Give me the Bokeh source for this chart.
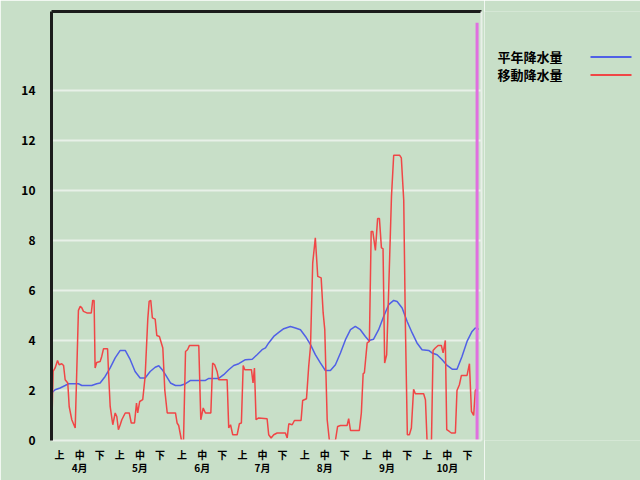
from bokeh.plotting import figure
from bokeh.models import Range1d, FixedTicker, LinearAxis
from bokeh.layouts import row
from bokeh.embed import file_html
from bokeh.resources import INLINE
from bokeh.core.properties import value

# ---------------- data ----------------
months = ["4月", "5月", "6月", "7月", "8月", "9月", "10月"]
month_days = [30, 31, 30, 31, 31, 30, 31]
dekads = ["上", "中", "下"]
y_ticks = [0, 2, 4, 6, 8, 10, 12, 14]

series_names = ["平年降水量", "移動降水量"]

# 平年降水量 (day index from 4/1, value mm)
normal_day = [0, 0.1, 1.8, 4.3, 6.8, 8.5, 13.4, 15.1, 20.0, 22.5, 24.2, 26.7, 29.2, 31.7,
              34.2, 36.7, 39.2, 41.6, 44.1, 46.6, 49.1, 51.6, 53.4, 55.1, 56.7, 59.2, 61.7,
              64.2, 66.7, 69.2, 76.6, 78.3, 83.2, 85.7, 88.2, 90.7, 93.2, 96.5, 99.9, 102.3,
              104.8, 106.5, 108.1, 110.6, 113.1, 115.6, 118.9, 121.4, 123.9, 126.4, 128.9,
              131.3, 133.8, 136.3, 138.8, 141.3, 143.8, 146.3, 148.8, 151.2, 153.7, 156.2,
              157.9, 160.3, 162.8, 165.3, 167.8, 170.3, 172.0, 174.5, 177.0, 179.5, 181.9,
              184.4, 187.7, 189.4, 191.9, 194.4, 196.9, 199.4, 201.8, 204.3, 206.8, 209.3,
              210.9, 212.6]
normal_val = [0, 1.9, 2.03, 2.1, 2.2, 2.27, 2.27, 2.2, 2.2, 2.27, 2.3, 2.56, 2.9, 3.3,
              3.6, 3.6, 3.23, 2.76, 2.5, 2.5, 2.76, 2.93, 2.99, 2.83, 2.63, 2.3, 2.2,
              2.2, 2.27, 2.4, 2.4, 2.48, 2.48, 2.63, 2.83, 3.0, 3.07, 3.23, 3.25, 3.43,
              3.63, 3.7, 3.9, 4.16, 4.32, 4.47, 4.56, 4.5, 4.43, 4.16, 3.83,
              3.43, 3.1, 2.8, 2.8, 3.03, 3.5, 4.03, 4.43, 4.56, 4.43, 4.16,
              4.0, 4.05, 4.43, 4.96, 5.43, 5.6, 5.56, 5.3, 4.76, 4.3, 3.9,
              3.63, 3.6, 3.5, 3.43, 3.23, 3.0, 2.85, 2.85, 3.36, 3.96, 4.36,
              4.5, 4.45]

# 移動降水量
moving_day = [0, 0.8, 1.8, 3.0, 3.8, 5.1, 6.0, 6.8, 8.1, 8.8, 10.1, 11.8, 13.4, 14.3, 15.1,
              15.9, 17.6, 19.8, 20.5, 21.2, 21.7, 22.5, 24.2, 25.0, 25.9, 27.9, 28.4, 29.2,
              30.5, 31.7, 32.5, 33.3, 34.2, 35.0, 36.7, 38.7, 39.7, 41.3, 42.3, 42.9, 43.9,
              45.4, 46.6, 47.9, 48.6, 49.4, 50.2, 51.6, 52.4, 53.7, 55.4, 56.4, 57.6, 61.7,
              62.5, 63.3, 64.7, 65.7, 66.7, 67.7, 68.7, 73.3, 74.3, 75.5, 76.6, 79.3, 80.2,
              81.2, 82.4, 83.2, 87.4, 88.2, 89.1, 90.2, 92.4, 93.5, 94.5, 95.4, 96.2, 99.5,
              100.3, 101.0, 101.8, 103.1, 107.3, 108.1, 109.3, 110.6, 112.3, 116.4, 117.3,
              118.1, 119.8, 120.9, 124.2, 125.0, 126.9, 128.0, 128.9, 130.0, 131.3, 132.5,
              134.2, 135.2, 136.0, 137.2, 138.3, 141.3, 142.4, 143.8, 147.1, 147.9, 148.8,
              153.2, 154.2, 155.1, 155.7, 157.1, 158.2, 159.1, 159.9, 161.2, 162.3, 163.2,
              164.2, 165.0, 165.8, 166.8, 167.8, 169.2, 170.3, 173.3, 174.1, 175.3, 176.1,
              177.1, 178.1, 179.1, 180.2, 181.1, 185.2, 186.1, 186.9, 189.1, 189.9, 191.0,
              192.4, 194.0, 194.9, 196.0, 196.7, 198.0, 199.0, 201.0, 201.8, 203.0, 204.0,
              206.8, 208.0, 209.0, 210.1, 210.9, 211.9]
moving_val = [0, 2.76, 2.9, 3.2, 3.03, 3.07, 3.0, 2.43, 2.3, 1.36, 0.83, 0.5, 5.2, 5.36, 5.3,
              5.16, 5.1, 5.1, 5.6, 5.6, 2.9, 3.12, 3.16, 3.36, 3.67, 3.67, 2.7, 1.36,
              0.63, 1.1, 0.96, 0.43, 0.63, 0.83, 1.1, 1.1, 0.7, 0.7, 1.5, 1.1, 1.56,
              1.63, 2.56, 4.83, 5.56, 5.6, 4.9, 4.85, 4.2, 4.16, 3.7, 2.0, 1.1, 1.1,
              0.7, 0.6, 0, 0, 3.56, 3.63, 3.8, 3.8, 0.83, 1.3, 1.1, 1.1, 3.1,
              3.03, 2.76, 2.43, 2.43, 0.5, 0.63, 0.23, 0.23, 0.67, 0.7, 3.0, 2.83, 2.83,
              2.3, 2.9, 0.83, 0.9, 0.87, 0.23, 0.1, 0.23, 0.3, 0.3, 0.1,
              0.67, 0.63, 0.8, 0.8, 1.6, 1.67, 2.96, 3.76, 7.1, 8.1, 6.56,
              6.5, 5.1, 4.43, 0.83, 0, 0, 0.56, 0.6, 0.6, 0.87, 0.4,
              0.4, 1.1, 2.67, 2.7, 3.9, 3.96, 8.36, 8.36, 7.6, 8.87, 8.87,
              7.7, 7.67, 3.1, 3.43, 6.0, 9.76, 11.4, 11.4, 11.3, 9.6, 4.7,
              0.23, 0.23, 0.5, 2.05, 1.87, 1.87, 1.63, 0, 0, 3.6, 3.7,
              3.8, 3.8, 3.5, 4.0, 0.43, 0.36, 0.3, 0.3, 2.0, 2.23, 2.6,
              2.6, 3.07, 1.16, 1.0, 2.0, 2.1]

today_day = 211.8
today_top = 16.7

# ---------------- styles ----------------
BG = "#C8DFC8"
BLUE = "#5060E6"
RED = "#F04646"
MAGENTA = "#E070E0"
DARK = "#1C1C1C"
LIGHT = "#E8F0E8"
FONT = "Noto Sans CJK JP"

total_days = sum(month_days)
starts = [sum(month_days[:i]) for i in range(len(month_days))]
x_ticks = []
dek_over = {}
mid_ticks = []
mon_over = {}
for s, m in zip(starts, months):
    for k, d in enumerate(dekads):
        t = s + 4 + 10 * k
        x_ticks.append(t)
        dek_over[t] = d
        if k == 1:
            mid_ticks.append(t)
            mon_over[t] = m

p = figure(width=484, height=480, x_range=Range1d(0, total_days), y_range=Range1d(0, 17.15),
           output_backend="svg", toolbar_location=None,
           min_border_left=51, min_border_top=11, min_border_right=3, min_border_bottom=40,
           background_fill_color=BG, border_fill_color=BG, outline_line_color=None)

# y axis
ya = p.yaxis[0]
ya.ticker = FixedTicker(ticks=y_ticks)
ya.axis_line_color = DARK
ya.axis_line_width = 3
ya.major_tick_line_color = None
ya.minor_tick_line_color = None
ya.major_label_standoff = 10
ya.major_label_text_font = FONT
ya.major_label_text_font_style = "bold"
ya.major_label_text_font_size = "12px"
ya.major_label_text_color = "black"

# x axis: dekads
xa = p.xaxis[0]
xa.ticker = FixedTicker(ticks=x_ticks)
xa.major_label_overrides = dek_over
xa.axis_line_color = LIGHT
xa.axis_line_width = 2
xa.major_tick_line_color = None
xa.minor_tick_line_color = None
xa.major_tick_out = 0
xa.major_label_standoff = 6
xa.major_label_text_font = FONT
xa.major_label_text_font_style = "bold"
xa.major_label_text_font_size = "10px"
xa.major_label_text_color = "black"

# x axis: months
ma = LinearAxis(ticker=FixedTicker(ticks=mid_ticks), major_label_overrides=mon_over,
                axis_line_color=None, major_tick_line_color=None, minor_tick_line_color=None,
                major_tick_out=0, minor_tick_out=0, major_label_standoff=-5,
                major_label_text_font=FONT, major_label_text_font_style="bold",
                major_label_text_font_size="10px", major_label_text_color="black")
p.add_layout(ma, "below")

# top and right frame lines
top = LinearAxis(ticker=FixedTicker(ticks=[]), axis_line_color=DARK, axis_line_width=3,
                 major_tick_line_color=None, minor_tick_line_color=None,
                 major_label_text_font_size="0px", major_tick_out=0, minor_tick_out=0,
                 major_label_standoff=0)
right = LinearAxis(ticker=FixedTicker(ticks=[]), axis_line_color=LIGHT, axis_line_width=2,
                   major_tick_line_color=None, minor_tick_line_color=None,
                   major_label_text_font_size="0px", major_tick_out=0, minor_tick_out=0,
                   major_label_standoff=0)
p.add_layout(top, "above")
p.add_layout(right, "right")

p.xgrid.visible = False
p.ygrid.ticker = FixedTicker(ticks=y_ticks)
p.ygrid.grid_line_color = LIGHT
p.ygrid.grid_line_width = 2

p.line(normal_day, normal_val, line_color=BLUE, line_width=1.5)
p.line(moving_day, moving_val, line_color=RED, line_width=1.5)
p.segment(x0=[today_day], y0=[0], x1=[today_day], y1=[today_top], line_color=MAGENTA, line_width=3)

# legend panel
lg = figure(width=156, height=480, x_range=Range1d(0, 156), y_range=Range1d(480, 0),
            output_backend="svg", toolbar_location=None,
            min_border=0, x_axis_location=None, y_axis_location=None,
            background_fill_color=BG, border_fill_color=BG, outline_line_color=None)
lg.title.visible = False
lg.grid.visible = False
lg.text(x=[13, 13], y=[50, 70], text=series_names, text_font=value(FONT),
        text_font_style="bold", text_font_size="13px", text_baseline="middle",
        text_align="left", text_color="black")
lg.segment(x0=[106, 106], y0=[51, 71], x1=[147, 147], y1=[51, 71],
           line_color=[BLUE, RED], line_width=2)

layout = row(p, lg)
open("out.html", "w").write(file_html(layout, INLINE))
